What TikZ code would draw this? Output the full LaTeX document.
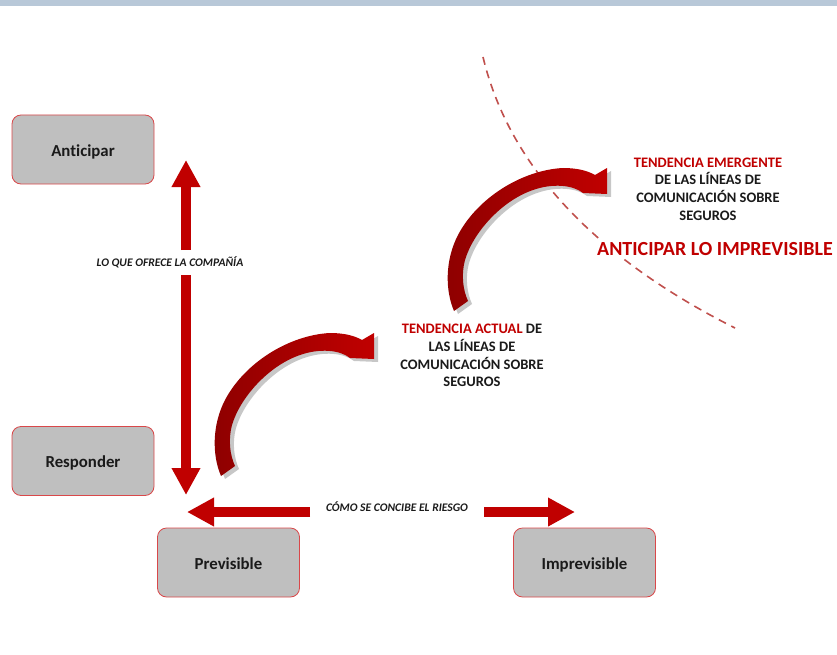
\documentclass[tikz,border=0pt]{standalone}
\usepackage{fontspec}
\setmainfont{Carlito}[Ligatures=NoCommon]
\usetikzlibrary{arrows.meta}
\definecolor{myred}{HTML}{C00000}
\definecolor{darkred}{HTML}{8E0000}
\definecolor{boxgray}{HTML}{BFBFBF}
\definecolor{boxred}{HTML}{D9484A}
\definecolor{barblue}{HTML}{B8C8D8}
\definecolor{dashred}{HTML}{C0504D}
\definecolor{txt}{HTML}{1A1A1A}
\tikzset{
  stepbox/.style={rounded corners=9pt, minimum width=142pt, minimum height=69pt,
    fill=boxgray, draw=boxred, line width=0.8pt, text=txt,
    text height=15pt, text depth=1.5pt,
    font=\bfseries\fontsize{16.8}{20}\selectfont},
  bigarrow/.style={draw=myred, line width=9.5pt,
    -{Triangle[width=27pt,length=27pt]}},
  axislabel/.style={font=\bfseries\itshape\fontsize{11.6}{13}\selectfont, text=txt, inner sep=1pt},
  trendtext/.style={align=center, font=\bfseries\fontsize{14.5}{17.6}\selectfont, text=txt},
  dashcurve/.style={draw=dashred, line width=1.6pt, dash pattern=on 8pt off 6pt},
  pics/curvarrow/.style={code={
    \path[fill=black!22] ([shift={(4,3)}]221,476) .. controls ([shift={(4,3)}]212,455) and ([shift={(4,3)}]212,425) .. ([shift={(4,3)}]225,400)
      .. controls ([shift={(4,3)}]245,362) and ([shift={(4,3)}]290,335) .. ([shift={(4,3)}]330,333)
      .. controls ([shift={(4,3)}]345,333) and ([shift={(4,3)}]355,336) .. ([shift={(4,3)}]362,340)
      -- ([shift={(4,3)}]374,333) -- ([shift={(4,3)}]374,359) -- ([shift={(4,3)}]350,358)
      .. controls ([shift={(4,3)}]340,350) and ([shift={(4,3)}]320,348) .. ([shift={(4,3)}]300,355)
      .. controls ([shift={(4,3)}]268,366) and ([shift={(4,3)}]240,398) .. ([shift={(4,3)}]232,425)
      .. controls ([shift={(4,3)}]228,440) and ([shift={(4,3)}]230,455) .. ([shift={(4,3)}]235,466) -- cycle;
    \path[left color=darkred, right color=myred] (221,476) .. controls (212,455) and (212,425) .. (225,400)
      .. controls (245,362) and (290,335) .. (330,333)
      .. controls (345,333) and (355,336) .. (362,340)
      -- (374,333) -- (374,359) -- (350,358)
      .. controls (340,350) and (320,348) .. (300,355)
      .. controls (268,366) and (240,398) .. (232,425)
      .. controls (228,440) and (230,455) .. (235,466) -- cycle;
  }}
}
\begin{document}
\begin{tikzpicture}[x=1pt,y=-1pt]
\useasboundingbox (0,0) rectangle (837,655);
\fill[barblue] (0,0) rectangle (837,6);

% boxes
\node[stepbox] (anticipar) at (83,149.5) {Anticipar};
\node[stepbox] (responder) at (83,461) {Responder};
\node[stepbox] (previsible) at (228.5,562.5) {Previsible};
\node[stepbox] (imprevisible) at (584.5,562.5) {Imprevisible};

% vertical axis
\node[axislabel] (vlab) at (170,262) {LO QUE OFRECE LA COMPAÑÍA};
\coordinate (vtop) at (186,160);
\coordinate (vgapT) at (186,250);
\coordinate (vgapB) at (186,275);
\coordinate (vbot) at (186,495);
\draw[bigarrow] (vgapT) -- (vtop);
\draw[bigarrow] (vgapB) -- (vbot);

% horizontal axis
\node[axislabel] (hlab) at (397,507) {CÓMO SE CONCIBE EL RIESGO};
\coordinate (hleft) at (187,512);
\coordinate (hlS) at (310,512);
\coordinate (hrS) at (484,512);
\coordinate (hright) at (575,512);
\draw[bigarrow] (hlS) -- (hleft);
\draw[bigarrow] (hrS) -- (hright);

% dashed boundary
\coordinate (d1) at (483,57);
\coordinate (d2) at (735,328);
\draw[dashcurve] (d1) .. controls (510,170) and (600,260) .. (d2);

% curved arrows
\pic {curvarrow};
\begin{scope}[shift={(233,-165)}]
\pic {curvarrow};
\end{scope}

% texts
\node[trendtext] (actual) at (472,355.5) {\textcolor{myred}{TENDENCIA ACTUAL} DE\\LAS LÍNEAS DE\\COMUNICACIÓN SOBRE\\SEGUROS};
\node[trendtext] (emergente) at (708,189) {\textcolor{myred}{TENDENCIA EMERGENTE}\\DE LAS LÍNEAS DE\\COMUNICACIÓN SOBRE\\SEGUROS};
\node[fill=white, inner sep=2pt, text=myred, font=\bfseries\fontsize{20}{24}\selectfont] (antimp) at (715,249) {ANTICIPAR LO IMPREVISIBLE};
\end{tikzpicture}
\end{document}
